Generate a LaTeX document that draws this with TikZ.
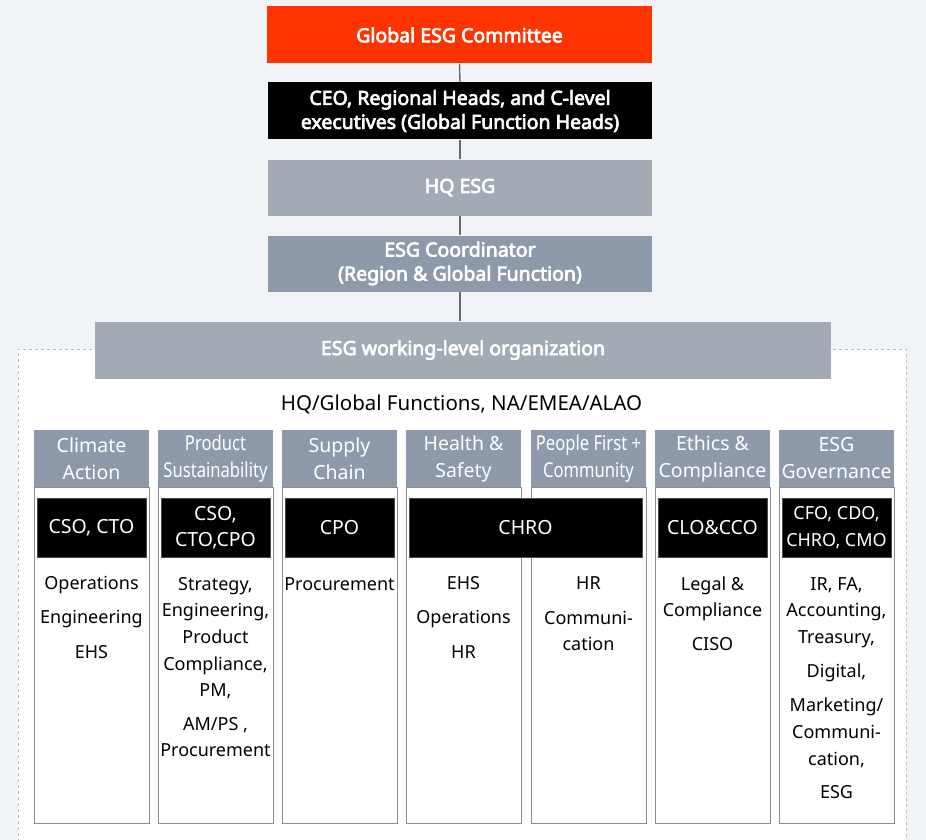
\documentclass[tikz,border=0pt]{standalone}
\usepackage{fontspec}
\setmainfont{Noto Sans}
\newfontfamily\boldfont{Noto Sans}[FakeBold=3.5]
\newfontfamily\condfont{Noto Sans}[FakeStretch=0.81]
\definecolor{bgc}{HTML}{F1F4F7}
\definecolor{orangec}{HTML}{FF3300}
\definecolor{grayA}{HTML}{A2ABB4}
\definecolor{grayB}{HTML}{8E9AAA}
\definecolor{colborder}{HTML}{8C8C8C}
\definecolor{dashc}{HTML}{BDBDBD}
\definecolor{connc}{HTML}{6A6A6A}
\begin{document}
\begin{tikzpicture}[x=1pt,y=-1pt,
  topbox/.style={rectangle, minimum width=384pt, minimum height=57pt, inner sep=0pt,
    text=white, align=center, font=\boldfont\fontsize{19.5}{24}\selectfont},
  conn/.style={draw=connc, line width=1.4pt},
  headbox/.style={rectangle, fill=grayB, minimum width=115pt, minimum height=57pt, inner sep=0pt,
    text=white, align=center, font=\fontsize{19.5}{27}\selectfont},
  condhead/.style={font=\condfont\fontsize{20.5}{27}\selectfont},
  bodybox/.style={rectangle, draw=colborder, line width=0.9pt, fill=white, minimum width=115pt,
    minimum height=336pt, inner sep=0pt, anchor=north},
  exbox/.style={rectangle, fill=black, draw=black!70, line width=0.8pt, minimum width=109pt,
    minimum height=59pt, inner sep=0pt, text=white, align=center, font=\fontsize{19.5}{26.6}\selectfont},
  bodytxt/.style={anchor=base, inner sep=0pt, font=\fontsize{18}{26.6}\selectfont, text=black}
]
\useasboundingbox (0,0) rectangle (926,840);
\fill[bgc] (0,0) rectangle (926,840);
% dashed container
\draw[dashc, dashed, line width=0.8pt, fill=white] (18,860) -- (18,349) -- (906,349) -- (906,860);

% top chain
\node[topbox, fill=orangec, minimum width=385pt] (gec) at (459.5,35) {Global ESG Committee};
\node[topbox, fill=black] (ceo) at (460,111) {CEO, Regional Heads, and C-level\\executives (Global Function Heads)};
\node[topbox, fill=grayA, minimum height=56pt] (hq) at (460,187.5) {HQ ESG};
\node[topbox, fill=grayB, minimum height=56pt] (coord) at (460,263.5) {ESG Coordinator\\(Region \& Global Function)};
\node[topbox, fill=grayA, minimum width=736pt] (wl) at (463,350) {ESG working-level organization};

\draw[conn] (gec.south) -- (ceo.north);
\draw[conn] (ceo.south) -- (hq.north);
\draw[conn] (hq.south) -- (coord.north);
\draw[conn] (coord.south) -- (coord.south |- wl.north);

\node[inner sep=0pt, font=\fontsize{20.5}{24}\selectfont] (title) at (461.5,404) {HQ/Global Functions, NA/EMEA/ALAO};

% column bodies
\foreach \cx [count=\i] in {91.5,215.5,339.5,463.5,588.5,712.5,836.5}
  \node[bodybox] (body\i) at (\cx,487) {};

% headers
\node[headbox] (h1) at (91.5,458.5) {Climate\\Action};
\node[headbox, condhead] (h2) at (215.5,458.5) {Product\\Sustainability};
\node[headbox] (h3) at (339.5,458.5) {Supply\\Chain};
\node[headbox] (h4) at (463.5,458.5) {Health \&\\Safety};
\node[headbox, condhead] (h5) at (588.5,458.5) {People First +\\Community};
\node[headbox] (h6) at (712.5,458.5) {Ethics \&\\Compliance};
\node[headbox] (h7) at (836.5,458.5) {ESG\\Governance};

% executive boxes
\node[exbox] (e1) at (91.5,527.5) {CSO, CTO};
\node[exbox] (e2) at (215.5,527.5) {CSO,\\CTO,CPO};
\node[exbox] (e3) at (339.5,527.5) {CPO};
\node[exbox, minimum width=233pt] (e4) at (525.5,527.5) {CHRO};
\node[exbox] (e6) at (712.5,527.5) {CLO\&CCO};
\node[exbox, font=\fontsize{18}{26.6}\selectfont] (e7) at (836.5,527.5) {CFO, CDO,\\CHRO, CMO};

% body texts
\foreach \t/\y [count=\k] in {Operations/589, Engineering/623.5, EHS/658}
  \node[bodytxt] (ta\k) at (91.5,\y) {\t};
\foreach \t/\y [count=\k] in {{Strategy,}/590, {Engineering,}/616.7, Product/643.3, {Compliance,}/670, {PM,}/696.7, {AM/PS ,}/730, Procurement/756.7}
  \node[bodytxt] (tb\k) at (215.5,\y) {\t};
\node[bodytxt] (tc1) at (339.5,590) {Procurement};
\foreach \t/\y [count=\k] in {EHS/589, Operations/623.5, HR/658}
  \node[bodytxt] (td\k) at (463.5,\y) {\t};
\foreach \t/\y [count=\k] in {HR/589, Communi-/624, cation/650.7}
  \node[bodytxt] (te\k) at (588.5,\y) {\t};
\foreach \t/\y [count=\k] in {{Legal \&}/590, Compliance/616.7, CISO/650.7}
  \node[bodytxt] (tf\k) at (712.5,\y) {\t};
\foreach \t/\y [count=\k] in {{IR, FA,}/590, {Accounting,}/616.7, {Treasury,}/643.3, {Digital,}/677.3, {Marketing/}/711.7, Communi-/738.3, {cation,}/765, ESG/798.3}
  \node[bodytxt] (tg\k) at (836.5,\y) {\t};
\end{tikzpicture}
\end{document}
